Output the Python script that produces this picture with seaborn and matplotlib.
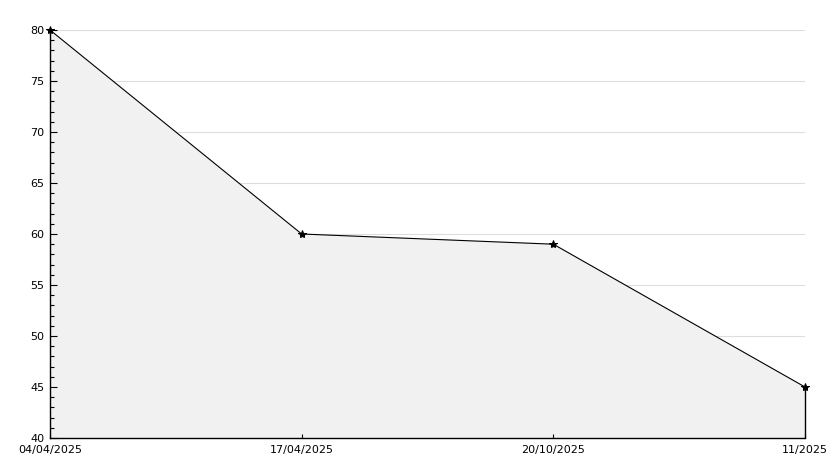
import numpy as np
import pandas as pd
import matplotlib
matplotlib.use("Agg")
import matplotlib.pyplot as plt
import seaborn as sns
from matplotlib.ticker import MultipleLocator

dates = ["04/04/2025", "17/04/2025", "20/10/2025", "11/2025"]
values = [80, 60, 59, 45]

df = pd.DataFrame({"pos": range(len(dates)), "value": values})

sns.set_style("white")
plt.rcParams['font.family'] = ['DejaVu Sans']

fig = plt.figure(figsize=(8.34, 4.68), dpi=100)
ax = fig.add_axes([50 / 834, 1 - 438 / 468, 755 / 834, 408 / 468])

# horizontal grid drawn by hand so it stays under the fill while ticks stay on top
for y in range(45, 81, 5):
    ax.axhline(y, color="#dddddd", lw=0.8, zorder=0)

ax.fill_between(df["pos"], df["value"], 40, color="#f1f1f1", edgecolor="none", zorder=1)
ax.vlines(df["pos"].iloc[-1], 40, df["value"].iloc[-1], color="black", lw=1, zorder=2, clip_on=False)
sns.lineplot(data=df, x="pos", y="value", ax=ax, color="black", lw=0.8,
             marker="*", markersize=6, markeredgecolor="black", zorder=3, clip_on=False)

ax.set_xlim(0, len(dates) - 1)
ax.set_ylim(40, 80)
ax.set_xticks(df["pos"])
ax.set_xticklabels(dates)
ax.yaxis.set_major_locator(MultipleLocator(5))
ax.yaxis.set_minor_locator(MultipleLocator(1))
ax.grid(False)
ax.set_axisbelow(False)
ax.set_xlabel("")
ax.set_ylabel("")

for s in ["top", "right"]:
    ax.spines[s].set_visible(False)
for s in ["left", "bottom"]:
    ax.spines[s].set_color("black")
    ax.spines[s].set_linewidth(1)
    ax.spines[s].set_zorder(4)

ax.tick_params(axis="y", which="major", direction="in", length=5, width=0.8, labelsize=8, pad=4,
               left=True, color="black", labelcolor="black")
ax.tick_params(axis="y", which="minor", direction="in", length=3, width=0.8, left=True, color="black")
ax.tick_params(axis="x", which="major", direction="in", length=3, width=0.8, labelsize=8, pad=5,
               bottom=True, color="black", labelcolor="black")

fig.savefig("out.png", dpi=100)
